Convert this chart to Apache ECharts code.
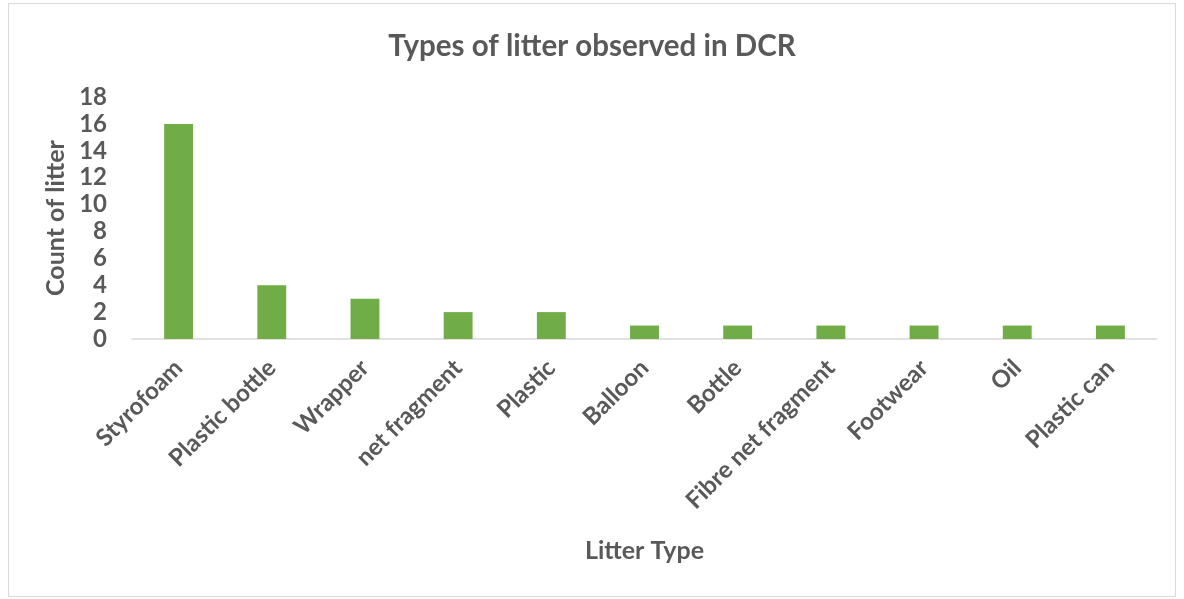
<!DOCTYPE html>
<html>
<head>
<meta charset="utf-8">
<script src="https://cdn.jsdelivr.net/npm/echarts@6/dist/echarts.min.js"></script>
<style>
  html, body { margin: 0; padding: 0; background: #fff; }
  #chart { width: 1184px; height: 599px; }
</style>
</head>
<body>
<div id="chart"></div>
<script>
// Litter survey counts by type
const categories = ['Styrofoam', 'Plastic bottle', 'Wrapper', 'net fragment', 'Plastic',
  'Balloon', 'Bottle', 'Fibre net fragment', 'Footwear', 'Oil', 'Plastic can'];
const counts = [16, 4, 3, 2, 2, 1, 1, 1, 1, 1, 1];
const yTicks = { min: 0, max: 18, interval: 2 };

const FONT = 'Lato, "Open Sans", sans-serif';
const TEXT = '#595959';

const chart = echarts.init(document.getElementById('chart'), null, { renderer: 'canvas' });
chart.setOption({
  backgroundColor: '#ffffff',
  animation: false,
  graphic: [{
    type: 'rect',
    shape: { x: 8.5, y: 3.5, width: 1167, height: 593 },
    style: { fill: 'none', stroke: '#D9D9D9', lineWidth: 1 },
    silent: true
  }],
  title: {
    text: 'Types of litter observed in DCR',
    left: 'center',
    top: 26,
    textStyle: { fontFamily: FONT, fontSize: 29.5, fontWeight: 'bold', color: TEXT }
  },
  grid: { left: 132, right: 27, top: 97, bottom: 260, containLabel: false },
  xAxis: {
    type: 'category',
    data: categories,
    name: 'Litter Type',
    nameLocation: 'middle',
    nameGap: 199,
    nameTextStyle: { fontFamily: FONT, fontSize: 25, fontWeight: 'bold', color: TEXT, verticalAlign: 'top' },
    axisLine: { lineStyle: { color: '#D9D9D9', width: 1.5 } },
    axisTick: { show: false },
    axisLabel: {
      interval: 0,
      rotate: 45,
      margin: 25,
      fontFamily: FONT, fontSize: 24, fontWeight: 'bold', color: TEXT
    }
  },
  yAxis: {
    type: 'value',
    min: yTicks.min,
    max: yTicks.max,
    interval: yTicks.interval,
    name: 'Count of litter',
    nameLocation: 'middle',
    nameGap: 62,
    nameTextStyle: { fontFamily: FONT, fontSize: 25, fontWeight: 'bold', color: TEXT },
    axisLine: { show: false },
    axisTick: { show: false },
    splitLine: { show: false },
    axisLabel: { margin: 25, fontFamily: FONT, fontSize: 24, fontWeight: 'bold', color: TEXT }
  },
  series: [{
    type: 'bar',
    data: counts,
    barWidth: '31%',
    itemStyle: { color: '#70AD47' }
  }]
});
</script>
</body>
</html>
